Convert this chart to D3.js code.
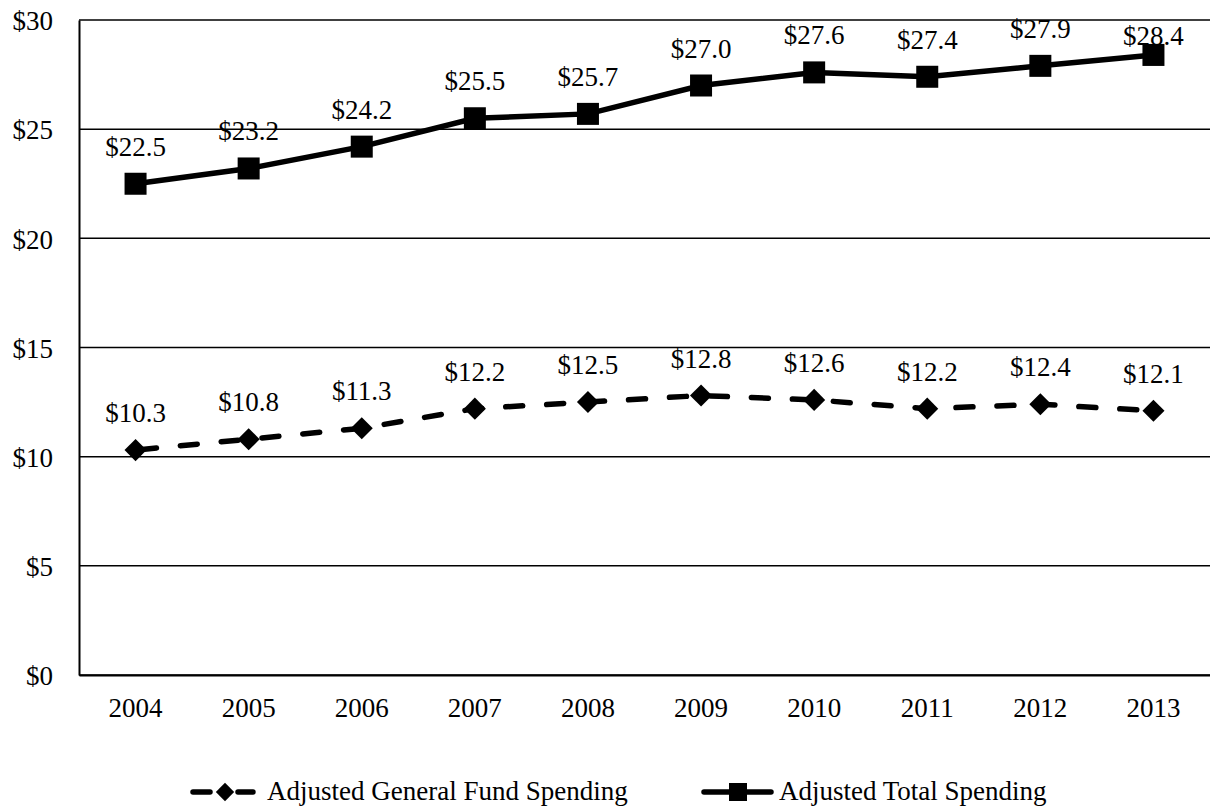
<!DOCTYPE html>
<html><head><meta charset="utf-8">
<script src="https://cdn.jsdelivr.net/npm/d3@7"></script>
<style>body{margin:0;background:#fff}svg{display:block}text{font-family:"Liberation Serif","Times New Roman",serif;fill:#000}</style>
</head><body><svg id="c" width="1210" height="806"></svg>
<script>
const years = ["2004","2005","2006","2007","2008","2009","2010","2011","2012","2013"];
const generalFund = [10.3,10.8,11.3,12.2,12.5,12.8,12.6,12.2,12.4,12.1];
const totalSpending = [22.5,23.2,24.2,25.5,25.7,27.0,27.6,27.4,27.9,28.4];
const yTicks = [0,5,10,15,20,25,30];
const seriesNames = ["Adjusted General Fund Spending","Adjusted Total Spending"];

const FS = 27;
const svg = d3.select("#c");
const L=79, R=1210, T=20, B=675;
const x = d3.scaleBand().domain(years).range([L,R]);
const y = d3.scaleLinear().domain([0,30]).range([B,T]);
const cx = d => x(d)+x.bandwidth()/2;

// gridlines
svg.append("g").selectAll("line").data(yTicks).join("line")
  .attr("x1",L).attr("x2",R).attr("y1",d=>y(d)).attr("y2",d=>y(d))
  .attr("stroke","#000").attr("stroke-width",1.5);
// axes
const ya = svg.append("g").attr("transform",`translate(${L},0)`)
  .call(d3.axisLeft(y).tickValues(yTicks).tickFormat(d=>"$"+d).tickSize(0).tickPadding(26));
ya.select(".domain").attr("stroke","#000").attr("stroke-width",2);
ya.selectAll("text").attr("font-size",FS).attr("font-family","Liberation Serif").attr("dy","0.36em");
const xa = svg.append("g").attr("transform",`translate(0,${B})`)
  .call(d3.axisBottom(x).tickSize(0).tickPadding(0));
xa.select(".domain").attr("stroke","#000").attr("stroke-width",2);
xa.selectAll("text").attr("font-size",FS).attr("font-family","Liberation Serif").attr("dy",null).attr("y",42);

const line = d3.line().x((d,i)=>cx(years[i])).y(d=>y(d));
// general fund dashed
svg.append("path").datum(generalFund).attr("d",line).attr("fill","none")
  .attr("stroke","#000").attr("stroke-width",5.5).attr("stroke-dasharray","17,24").attr("stroke-dashoffset",-4).attr("stroke-linecap","round");
svg.append("path").datum(totalSpending).attr("d",line).attr("fill","none")
  .attr("stroke","#000").attr("stroke-width",5.5);
svg.append("g").selectAll("rect").data(generalFund).join("rect")
  .attr("x",-7.8).attr("y",-7.8).attr("width",15.6).attr("height",15.6)
  .attr("transform",(d,i)=>`translate(${cx(years[i])},${y(d)}) rotate(45)`).attr("fill","#000");
svg.append("g").selectAll("rect").data(totalSpending).join("rect")
  .attr("x",(d,i)=>cx(years[i])-11).attr("y",d=>y(d)-11).attr("width",22).attr("height",22).attr("fill","#000");

// labels
function labels(arr){
  svg.append("g").selectAll("text").data(arr).join("text")
    .attr("x",(d,i)=>cx(years[i])).attr("y",d=>{const v=y(d)-28; return v<30 ? y(d)-10 : v;})
    .attr("text-anchor","middle").attr("font-size",FS).text(d=>"$"+d.toFixed(1));
}
labels(generalFund); labels(totalSpending);

// legend
const lg = svg.append("g");
const ly = 792;
lg.append("line").attr("x1",193).attr("x2",210).attr("y1",ly).attr("y2",ly)
  .attr("stroke","#000").attr("stroke-width",5.5).attr("stroke-linecap","round");
lg.append("line").attr("x1",238).attr("x2",253).attr("y1",ly).attr("y2",ly)
  .attr("stroke","#000").attr("stroke-width",5.5).attr("stroke-linecap","round");
lg.append("rect").attr("x",-6.5).attr("y",-6.5).attr("width",13).attr("height",13)
  .attr("transform",`translate(225,${ly}) rotate(45)`).attr("fill","#000");
lg.append("text").attr("x",267).attr("y",ly+8).attr("font-size",FS).text(seriesNames[0]);
lg.append("line").attr("x1",704).attr("x2",771).attr("y1",ly).attr("y2",ly)
  .attr("stroke","#000").attr("stroke-width",5.5).attr("stroke-linecap","round");
lg.append("rect").attr("x",729).attr("y",ly-9).attr("width",18).attr("height",18).attr("fill","#000");
lg.append("text").attr("x",779).attr("y",ly+8).attr("font-size",FS).text(seriesNames[1]);
</script></body></html>
